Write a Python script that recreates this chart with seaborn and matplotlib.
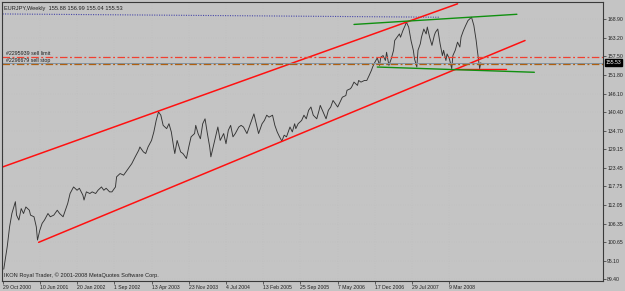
import numpy as np
import pandas as pd
import seaborn as sns
from matplotlib import pyplot as plt
import matplotlib.transforms as mtransforms

# weekly EURJPY closes, week index counted from 29 Oct 2000
weeks = [1, 4, 6, 8, 11, 12, 14, 16, 18, 20, 23, 24, 27, 29, 30, 32, 34, 36, 39, 41,
         44, 47, 49, 52, 54, 56, 58, 61, 64, 66, 69, 70, 72, 75, 77, 80, 82, 85, 87, 89,
         92, 94, 97, 98, 101, 104, 106, 109, 111, 114, 117, 118, 121, 123, 125, 128, 130, 132, 134, 136,
         138, 141, 143, 145, 147, 148, 150, 153, 155, 158, 160, 162, 165, 166, 168, 170, 172, 174, 176, 178,
         179, 181, 183, 185, 187, 190, 192, 194, 196, 198, 200, 203, 205, 207, 210, 212, 214, 216, 218, 220,
         223, 225, 227, 229, 232, 234, 236, 238, 240, 242, 244, 247, 249, 251, 252, 254, 257, 259, 261, 263,
         265, 267, 270, 272, 273, 276, 278, 280, 282, 284, 285, 288, 290, 292, 295, 296, 299, 300, 302, 305,
         306, 308, 311, 313, 315, 317, 318, 320, 322, 324, 325, 327, 329, 330, 332, 334, 336, 337, 339, 341,
         342, 344, 346, 347, 349, 351, 353, 354, 356, 357, 359, 360, 362, 364, 365, 367, 369, 371, 372, 374,
         376, 378, 379, 381, 382, 384, 386, 387, 389, 391, 393, 394, 396, 398, 400, 403, 405, 407, 408, 410,
         411]
closes = [92.5, 99.4, 105.4, 109.5, 113.1, 109.0, 107.5, 111.0, 109.5, 111.5, 110.5, 109.0, 108.5, 105.4, 101.4, 104.4, 106.5, 107.5, 109.5, 108.5,
          109.0, 110.5, 109.5, 108.5, 110.5, 112.6, 115.6, 117.6, 116.6, 117.2, 115.1, 113.6, 116.1, 115.6, 116.1, 115.6, 116.6, 117.6, 116.6, 117.2,
          116.1, 116.1, 117.6, 120.7, 121.7, 121.2, 122.2, 123.7, 124.7, 126.8, 128.8, 129.8, 128.3, 127.8, 129.8, 131.8, 134.4, 137.9, 140.5, 139.5,
          136.4, 135.4, 136.9, 134.4, 129.8, 127.8, 131.8, 128.3, 127.8, 126.3, 129.8, 132.9, 133.9, 136.4, 133.9, 132.3, 136.9, 138.4, 133.9, 129.8,
          126.8, 129.8, 132.9, 135.9, 131.8, 133.9, 130.8, 134.9, 136.4, 132.9, 133.9, 135.9, 136.4, 135.9, 133.9, 135.9, 137.9, 139.9, 136.9, 133.9,
          136.9, 137.9, 139.5, 138.9, 139.5, 136.4, 134.4, 132.9, 131.6, 133.4, 132.9, 135.9, 134.4, 136.9, 135.4, 136.9, 137.9, 139.5, 138.4, 141.0,
          142.0, 139.5, 138.4, 141.0, 142.5, 140.0, 138.4, 141.0, 142.0, 144.0, 143.5, 142.0, 143.5, 145.0, 145.5, 147.1, 147.6, 148.1, 149.6, 148.6,
          150.1, 149.6, 150.1, 150.1, 151.6, 153.2, 154.2, 155.7, 157.0, 154.7, 157.2, 157.7, 156.2, 158.7, 154.7, 156.7, 159.3, 162.3, 163.3, 164.3,
          163.3, 165.3, 166.9, 167.9, 166.4, 162.3, 159.3, 156.7, 154.2, 159.3, 161.3, 163.3, 165.8, 164.3, 166.4, 163.3, 160.8, 163.8, 164.8, 165.8,
          161.3, 157.7, 159.3, 156.2, 158.2, 156.7, 153.7, 157.7, 159.3, 161.8, 160.3, 163.3, 165.3, 166.9, 168.4, 169.4, 166.9, 162.3, 159.3, 153.7,
          155.53]

# hand drawn objects: (week start, week end), (price start, price end)
upper_red_w, upper_red_p = [0, 391], [123.7, 173.5]
lower_red_w, lower_red_p = [31, 449], [100.7, 162.3]
short_red_w, short_red_p = [388, 433], [153.5, 153.5]
upper_green_w, upper_green_p = [302, 442], [167.2, 170.3]
lower_green_w, lower_green_p = [322, 457], [154.2, 152.6]
dotted_w, dotted_p = [0, 375], [170.4, 169.4]

sell_limit = 157.25
sell_stop = 155.2
bid = 155.53

y_ticks = [89.40, 95.10, 100.65, 106.35, 112.05, 117.75, 123.45, 129.15,
           134.70, 140.40, 146.10, 151.80, 157.50, 163.20, 168.90]
x_tick_weeks = [0, 32, 64, 96, 128, 160, 192, 224, 256, 288, 320, 352, 384]
x_tick_labels = ["29 Oct 2000", "10 Jun 2001", "20 Jan 2002", "1 Sep 2002", "13 Apr 2003",
                 "23 Nov 2003", "4 Jul 2004", "13 Feb 2005", "25 Sep 2005", "7 May 2006",
                 "17 Dec 2006", "29 Jul 2007", "9 Mar 2008"]

bg = "#c4c4c4"
sns.set_style("ticks", {"axes.facecolor": bg, "figure.facecolor": bg})
plt.rcParams["font.family"] = ["Liberation Sans", "DejaVu Sans"]

fig = plt.figure(figsize=(6.25, 2.91), dpi=100)
ax = fig.add_axes([2 / 625, 10 / 291, 601 / 625, 279.5 / 291])

df = pd.DataFrame({"week": weeks, "close": closes})
sns.lineplot(data=df, x="week", y="close", ax=ax, color="#343434", lw=0.65)

ax.plot(dotted_w, dotted_p, color="#4848a8", lw=0.8, ls=(0, (1, 1.2)))
ax.plot(upper_red_w, upper_red_p, color="#ff1010", lw=1.1)
ax.plot(lower_red_w, lower_red_p, color="#ff1010", lw=1.1)
ax.plot(short_red_w, short_red_p, color="#ff1010", lw=1.0)
ax.plot(upper_green_w, upper_green_p, color="#109010", lw=1.0)
ax.plot(lower_green_w, lower_green_p, color="#109010", lw=1.0)

ax.axhline(sell_limit, color="#f04030", lw=0.9, ls=(0, (6, 2, 1.5, 2)))
ax.axhline(bid, color="#8094a8", lw=0.7)
ax.axhline(sell_stop, color="#b06010", lw=0.9, ls=(0, (6, 2, 1.5, 2)))

ax.annotate("#2295939 sell limit", xy=(0, sell_limit), xycoords=("axes fraction", "data"),
            xytext=(3, 1.5), textcoords="offset points", fontsize=3.8, color="#202020")
ax.annotate("#2296679 sell stop", xy=(0, sell_stop), xycoords=("axes fraction", "data"),
            xytext=(3, 1.5), textcoords="offset points", fontsize=3.8, color="#202020")

ax.set_xlim(-0.5, 516)
ax.set_ylim(88.9, 174.2)
ax.set_xlabel("")
ax.set_ylabel("")

ax.set_xticks(x_tick_weeks)
ax.set_xticklabels(x_tick_labels, ha="left")
ax.yaxis.tick_right()
ax.set_yticks(y_ticks)
ax.set_yticklabels([f"{v:.2f}" for v in y_ticks])
ax.tick_params(axis="both", labelsize=3.7, length=2, width=0.5, color="#303030",
               labelcolor="#202020", pad=1)
ax.grid(True, color="#b9b9b9", ls=(0, (1, 4)), lw=0.35)
for s in ax.spines.values():
    s.set_visible(True)
    s.set_color("#3a3a3a")
    s.set_linewidth(0.8)

trans = mtransforms.blended_transform_factory(ax.transAxes, ax.transData)
ax.text(1.004, bid, f"{bid:.2f}", transform=trans, fontsize=3.7, color="white",
        va="center", ha="left", bbox=dict(facecolor="black", edgecolor="black", pad=0.6))

ax.text(0.004, 0.985, "EURJPY,Weekly  155.88 156.99 155.04 155.53", transform=ax.transAxes,
        fontsize=4.1, color="#202020", va="top", ha="left")
ax.text(0.004, 0.012, "IKON Royal Trader, \u00a9 2001-2008 MetaQuotes Software Corp.",
        transform=ax.transAxes, fontsize=4.1, color="#202020", va="bottom", ha="left")

fig.savefig("out.png", dpi=100, facecolor=bg)
